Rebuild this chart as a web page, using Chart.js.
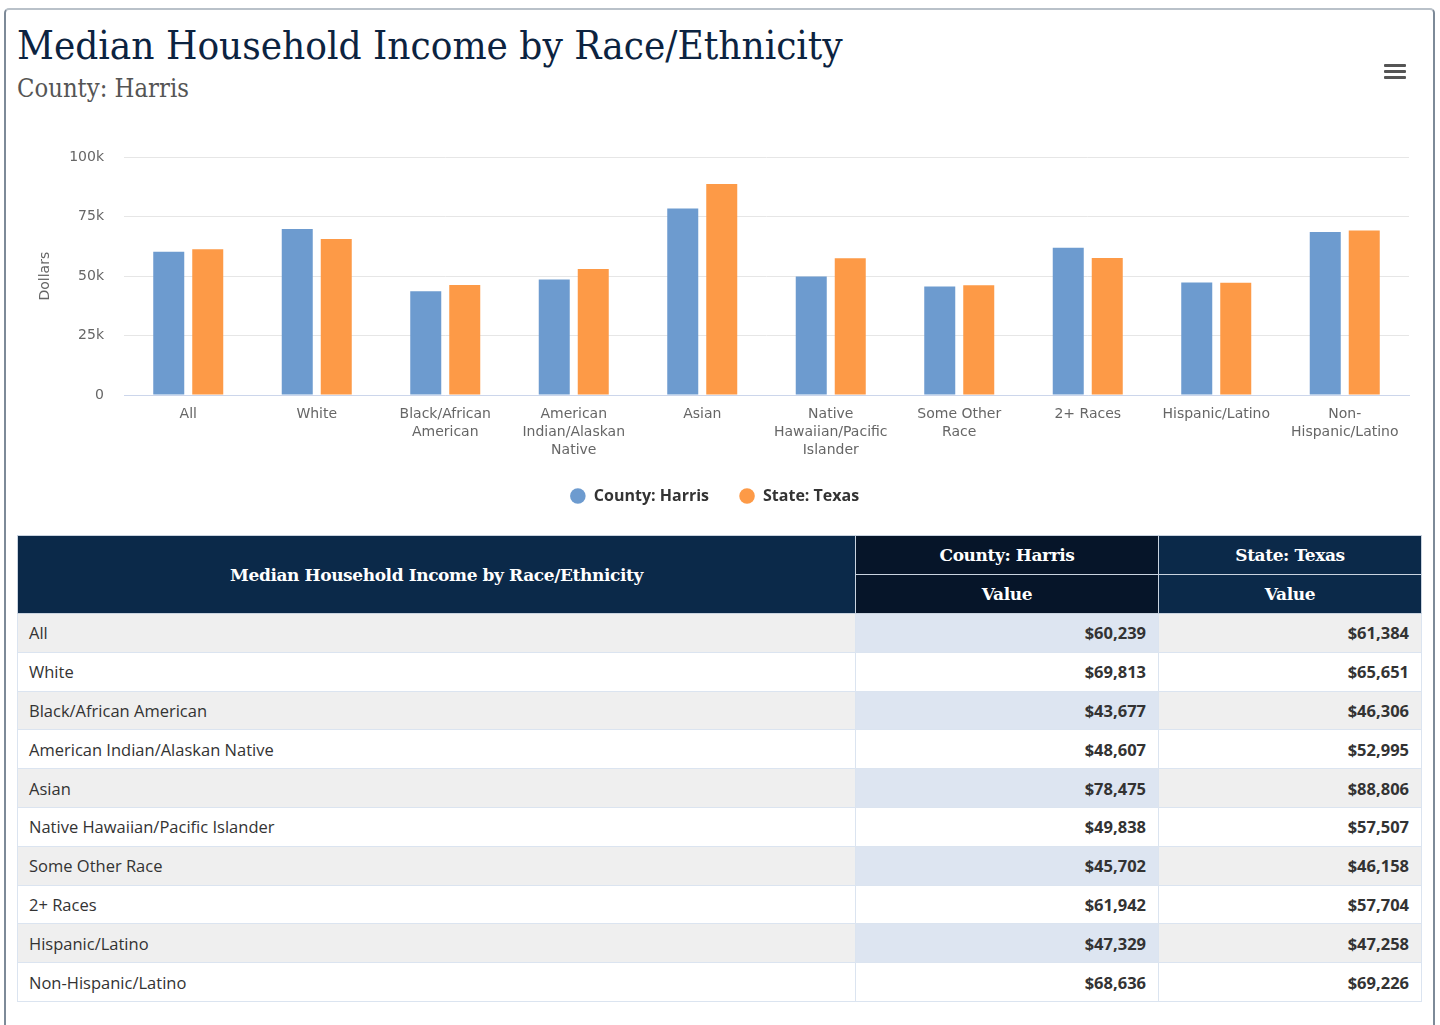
<!DOCTYPE html>
<html>
<head>
<meta charset="utf-8">
<script src="https://cdn.jsdelivr.net/npm/chart.js@4/dist/chart.umd.min.js"></script>
<style>
  html, body { margin: 0; padding: 0; background: #ffffff; width: 1440px; height: 1025px; overflow: hidden; }
  #card { position: absolute; left: 4px; top: 8px; width: 1431px; height: 1100px; border: 2px solid #7d8a98; border-top-color: #b9c1c9; border-radius: 5px; box-sizing: border-box; }
  #title { position: absolute; left: 17px; top: 25px; font-family: "DejaVu Serif Condensed", "DejaVu Serif", serif; font-stretch: condensed; font-size: 38px; color: #0c2340; white-space: nowrap; line-height: 1; }
  #subtitle { position: absolute; left: 17px; top: 76px; font-family: "DejaVu Serif Condensed", "DejaVu Serif", serif; font-stretch: condensed; font-size: 23px; color: #555555; white-space: nowrap; line-height: 1; }
  #menu { position: absolute; left: 1384px; top: 64px; width: 22px; }
  #menu div { height: 3px; background: #555; margin-bottom: 3px; border-radius: 1px; }
  #chartWrap { position: absolute; left: 20px; top: 129px; width: 1400px; height: 391px; }
  table { position: absolute; left: 17px; top: 535px; width: 1404px; border-collapse: collapse; table-layout: fixed; }
  th { font-family: "DejaVu Serif", serif; font-weight: bold; color: #ffffff; background: #0b2949; font-size: 17px; height: 38px; padding: 0; border: 1px solid #c9d3df; letter-spacing: -0.4px; }
  th.dark { background: #061529; }
  td { font-family: "Open Sans", sans-serif; font-size: 16.5px; color: #333333; height: 38.8px; padding: 0 11px; border: 1px solid #dbe4f0; box-sizing: border-box; }
  td.v { text-align: right; font-weight: bold; padding-right: 12px; font-size: 16.5px; }
  tr.odd td { background: #efefef; }
  tr.odd td.c1 { background: #dde5f1; }
</style>
</head>
<body>
<div id="card"></div>
<div id="title">Median Household Income by Race/Ethnicity</div>
<div id="subtitle">County: Harris</div>
<div id="menu"><div></div><div></div><div></div></div>
<div id="chartWrap"><canvas id="chart" width="1400" height="391"></canvas></div>
<table id="tbl">
  <colgroup><col style="width:838px"><col style="width:303px"><col style="width:263px"></colgroup>
  <thead>
    <tr><th rowspan="2">Median Household Income by Race/Ethnicity</th><th class="dark">County: Harris</th><th>State: Texas</th></tr>
    <tr><th class="dark">Value</th><th>Value</th></tr>
  </thead>
  <tbody id="tbody"></tbody>
</table>
<script>
const categories = ["All", "White", "Black/African American", "American Indian/Alaskan Native", "Asian", "Native Hawaiian/Pacific Islander", "Some Other Race", "2+ Races", "Hispanic/Latino", "Non-Hispanic/Latino"];
const tickLabels = [["All"], ["White"], ["Black/African", "American"], ["American", "Indian/Alaskan", "Native"], ["Asian"], ["Native", "Hawaiian/Pacific", "Islander"], ["Some Other", "Race"], ["2+ Races"], ["Hispanic/Latino"], ["Non-", "Hispanic/Latino"]];
const countyHarris = [60239, 69813, 43677, 48607, 78475, 49838, 45702, 61942, 47329, 68636];
const stateTexas = [61384, 65651, 46306, 52995, 88806, 57507, 46158, 57704, 47258, 69226];
const seriesNames = ["County: Harris", "State: Texas"];
const yTicks = [0, 25000, 50000, 75000, 100000];

function fitWidth(id, target) {
  const el = document.getElementById(id);
  let fs = parseFloat(getComputedStyle(el).fontSize);
  const w = el.getBoundingClientRect().width;
  el.style.fontSize = (fs * target / w) + "px";
}
fitWidth("title", 826);
fitWidth("subtitle", 172);

const fmt = v => "$" + v.toLocaleString("en-US");
const tbody = document.getElementById("tbody");
categories.forEach((c, i) => {
  const tr = document.createElement("tr");
  if (i % 2 === 0) tr.className = "odd";
  tr.innerHTML = `<td>${c}</td><td class="v c1">${fmt(countyHarris[i])}</td><td class="v">${fmt(stateTexas[i])}</td>`;
  tbody.appendChild(tr);
});

new Chart(document.getElementById("chart"), {
  type: "bar",
  data: {
    labels: tickLabels,
    datasets: [
      { label: seriesNames[0], data: countyHarris, backgroundColor: "#6d9bcf", borderWidth: 0, categoryPercentage: 0.607, barPercentage: 0.795 },
      { label: seriesNames[1], data: stateTexas, backgroundColor: "#fd9a47", borderWidth: 0, categoryPercentage: 0.607, barPercentage: 0.795 }
    ]
  },
  options: {
    responsive: false,
    animation: false,
    layout: { padding: { top: 5, right: 11, bottom: 6, left: 0 } },
    plugins: {
      legend: {
        position: "bottom",
        labels: { usePointStyle: true, pointStyle: "circle", boxWidth: 16, boxHeight: 11, padding: 30, color: "#333333", font: { family: "Open Sans", size: 16, weight: "bold" } }
      },
      tooltip: { enabled: false }
    },
    scales: {
      x: {
        grid: { display: false, drawTicks: false },
        border: { display: true, color: "#ccd6eb", width: 1 },
        ticks: { color: "#666666", padding: 10, maxRotation: 0, autoSkip: false, font: { family: "DejaVu Sans", size: 14, lineHeight: 1.3 } },
        afterFit: s => { s.height = 63; }
      },
      y: {
        min: 0, max: 100000,
        afterBuildTicks: s => { s.ticks = yTicks.map(v => ({ value: v })); },
        grid: { color: "#e6e6e6", drawTicks: false },
        border: { display: false },
        ticks: { color: "#666666", padding: 20, font: { family: "DejaVu Sans", size: 14 }, callback: v => v === 0 ? "0" : (v / 1000) + "k" },
        title: { display: true, text: "Dollars", color: "#666666", padding: { top: 17, bottom: 0 }, font: { family: "DejaVu Sans", size: 14 } },
        afterFit: s => { s.width = 104; }
      }
    }
  }
});
</script>
</body>
</html>
